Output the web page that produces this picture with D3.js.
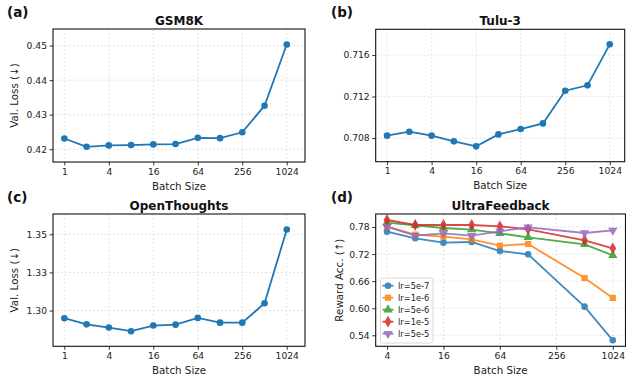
<!DOCTYPE html>
<html>
<head>
<meta charset="utf-8">
<script src="https://cdn.jsdelivr.net/npm/d3@7"></script>
<style>
  body { margin: 0; background: #fff; }
  svg { display: block; font-family: "DejaVu Sans", sans-serif; }
</style>
</head>
<body>
<svg id="chart" width="626" height="377"></svg>
<script>
// ---------- data ----------
const batchSizes = [1, 2, 4, 8, 16, 32, 64, 128, 256, 512, 1024];
const gsm8kLoss = [0.4231, 0.4207, 0.4211, 0.4212, 0.4214, 0.4215, 0.4233, 0.4232, 0.4249, 0.4326, 0.4503];
const tuluLoss = [0.70823, 0.70861, 0.70823, 0.70768, 0.70720, 0.70835, 0.70887, 0.70941, 0.71256, 0.71308, 0.71703];
const openThoughtsLoss = [1.2950, 1.2910, 1.2889, 1.2865, 1.2902, 1.2908, 1.2952, 1.2921, 1.2921, 1.3048, 1.3531];

const ufBatchSizes = [4, 8, 16, 32, 64, 128, 512, 1024];
const ufLabels = ["lr=5e-7", "lr=1e-6", "lr=5e-6", "lr=1e-5", "lr=5e-5"];
const ufLr5e7 = [0.7697, 0.7549, 0.7453, 0.7468, 0.7268, 0.7194, 0.6035, 0.5289];
const ufLr1e6 = [0.7807, 0.7630, 0.7586, 0.7527, 0.7386, 0.7423, 0.6670, 0.6227];
const ufLr5e6 = [0.7896, 0.7837, 0.7778, 0.7741, 0.7660, 0.7571, 0.7416, 0.7172];
const ufLr1e5 = [0.7955, 0.7844, 0.7844, 0.7844, 0.7815, 0.7748, 0.7505, 0.7328];
const ufLr5e5 = [0.7807, 0.7608, 0.7660, 0.7608, 0.7704, 0.7793, 0.7667, 0.7726];

const xTicksFull = [1, 4, 16, 64, 256, 1024];
const xTicksUF = [4, 16, 64, 256, 1024];
const yTicksGSM = [0.42, 0.43, 0.44, 0.45];
const yTicksTulu = [0.708, 0.712, 0.716];
const yTicksOT = [1.30, 1.325, 1.35];
const yTickLabelsOT = ["1.30", "1.33", "1.35"];
const yTicksUF = [0.54, 0.60, 0.66, 0.72, 0.78];

// ---------- style ----------
const colors = ["#1f77b4", "#ff7f0e", "#2ca02c", "#d62728", "#9467bd"];
const svg = d3.select("#chart");

function panel(o) {
  const g = svg.append("g");
  const x = d3.scaleLog().base(2).domain(o.xDomain).range([o.left, o.right]);
  const y = d3.scaleLinear().domain(o.yDomain).range([o.bottom, o.top]);

  // grid
  g.append("g").selectAll("line").data(o.xTicks).join("line")
    .attr("x1", d => x(d)).attr("x2", d => x(d))
    .attr("y1", o.top).attr("y2", o.bottom)
    .attr("stroke", "#dcdcdc").attr("stroke-width", 0.8).attr("stroke-dasharray", "2,2");
  g.append("g").selectAll("line").data(o.yTicks).join("line")
    .attr("x1", o.left).attr("x2", o.right)
    .attr("y1", d => y(d)).attr("y2", d => y(d))
    .attr("stroke", "#dcdcdc").attr("stroke-width", 0.8).attr("stroke-dasharray", "2,2");

  // axes
  const xAxis = d3.axisBottom(x).tickValues(o.xTicks).tickFormat(d3.format("d"))
    .tickSizeInner(3.5).tickSizeOuter(0).tickPadding(2.5);
  const yAxis = d3.axisLeft(y).tickValues(o.yTicks)
    .tickFormat((d, i) => o.yTickLabels ? o.yTickLabels[i] : o.yFmt(d))
    .tickSizeInner(3.5).tickSizeOuter(0).tickPadding(2.5);
  const gx = g.append("g").attr("transform", `translate(0,${o.bottom})`).call(xAxis);
  const gy = g.append("g").attr("transform", `translate(${o.left},0)`).call(yAxis);
  [gx, gy].forEach(a => {
    a.select(".domain").remove();
    a.selectAll(".tick line").attr("stroke", "#222").attr("stroke-width", 0.9);
    a.selectAll(".tick text").attr("fill", "#222").attr("font-size", 9.2)
      .attr("font-family", "DejaVu Sans");
  });

  // frame
  g.append("rect").attr("x", o.left).attr("y", o.top)
    .attr("width", o.right - o.left).attr("height", o.bottom - o.top)
    .attr("fill", "none").attr("stroke", "#111").attr("stroke-width", 1.1);

  // title
  g.append("text").attr("x", (o.left + o.right) / 2).attr("y", o.top - 4.5)
    .attr("text-anchor", "middle").attr("font-weight", "bold").attr("font-size", 12)
    .attr("fill", "#111").text(o.title);
  // panel label
  g.append("text").attr("x", o.labelX).attr("y", o.top - 12.5)
    .attr("font-weight", "bold").attr("font-size", 13.5).attr("fill", "#111").text(o.label);
  // axis labels
  g.append("text").attr("x", (o.left + o.right) / 2).attr("y", o.bottom + 27.5)
    .attr("text-anchor", "middle").attr("font-size", 10.3).attr("fill", "#222").text("Batch Size");
  if (o.yLabel) {
    g.append("text").attr("transform", `translate(${o.yLabelX},${(o.top + o.bottom) / 2}) rotate(-90)`)
      .attr("text-anchor", "middle").attr("dy", "0.35em").attr("font-size", 10.3).attr("fill", "#222").text(o.yLabel);
  }
  return {g, x, y};
}

function simpleSeries(p, xs, ys) {
  const line = d3.line().x((d, i) => p.x(xs[i])).y(d => p.y(d));
  p.g.append("path").datum(ys).attr("d", line).attr("fill", "none")
    .attr("stroke", colors[0]).attr("stroke-width", 1.8);
  p.g.append("g").selectAll("circle").data(ys).join("circle")
    .attr("cx", (d, i) => p.x(xs[i])).attr("cy", d => p.y(d)).attr("r", 3.3)
    .attr("fill", colors[0]);
}

// (a) GSM8K
const pa = panel({left: 53, right: 305, top: 29, bottom: 162,
  xDomain: [Math.pow(2, -0.51), Math.pow(2, 10.82)], yDomain: [0.4163, 0.4548],
  xTicks: xTicksFull, yTicks: yTicksGSM, yFmt: d3.format(".2f"),
  title: "GSM8K", label: "(a)", labelX: 7, yLabel: "Val. Loss (\u2193)", yLabelX: 14});
simpleSeries(pa, batchSizes, gsm8kLoss);

// (b) Tulu-3
const pb = panel({left: 375.7, right: 624.7, top: 29.3, bottom: 161.7,
  xDomain: [Math.pow(2, -0.51), Math.pow(2, 10.67)], yDomain: [0.70572, 0.71848],
  xTicks: xTicksFull, yTicks: yTicksTulu, yFmt: d3.format(".3f"),
  title: "Tulu-3", label: "(b)", labelX: 331});
simpleSeries(pb, batchSizes, tuluLoss);

// (c) OpenThoughts
const pc = panel({left: 53, right: 305, top: 214, bottom: 346.3,
  xDomain: [Math.pow(2, -0.51), Math.pow(2, 10.82)], yDomain: [1.2766, 1.3633],
  xTicks: xTicksFull, yTicks: yTicksOT, yTickLabels: yTickLabelsOT,
  title: "OpenThoughts", label: "(c)", labelX: 7, yLabel: "Val. Loss (\u2193)", yLabelX: 14});
simpleSeries(pc, batchSizes, openThoughtsLoss);

// (d) UltraFeedback
const pd = panel({left: 375.7, right: 625.5, top: 214, bottom: 346.3,
  xDomain: [Math.pow(2, 1.6), Math.pow(2, 10.45)], yDomain: [0.5156, 0.8088],
  xTicks: xTicksUF, yTicks: yTicksUF, yFmt: d3.format(".2f"),
  title: "UltraFeedback", label: "(d)", labelX: 331, yLabel: "Reward Acc. (\u2191)", yLabelX: 339});

const ufSeries = [ufLr5e7, ufLr1e6, ufLr5e6, ufLr1e5, ufLr5e5];
const symbols = [
  d3.symbol().type(d3.symbolCircle).size(34),
  d3.symbol().type(d3.symbolSquare).size(38),
  d3.symbol().type(d3.symbolTriangle).size(38),
  d3.symbol().type(d3.symbolDiamond).size(40),
  d3.symbol().type(d3.symbolTriangle).size(38)
];
const rotations = [0, 0, 0, 0, 180];
ufSeries.forEach((ys, k) => {
  const line = d3.line().x((d, i) => pd.x(ufBatchSizes[i])).y(d => pd.y(d));
  const sg = pd.g.append("g").attr("opacity", 0.85);
  sg.append("path").datum(ys).attr("d", line).attr("fill", "none")
    .attr("stroke", colors[k]).attr("stroke-width", 1.8);
  sg.selectAll("path.m").data(ys).join("path").attr("class", "m")
    .attr("d", symbols[k])
    .attr("transform", (d, i) => `translate(${pd.x(ufBatchSizes[i])},${pd.y(d)}) rotate(${rotations[k]})`)
    .attr("fill", colors[k]);
});

// legend
const lg = pd.g.append("g").attr("transform", "translate(380.5,278)");
lg.append("rect").attr("width", 52.5).attr("height", 65).attr("rx", 2)
  .attr("fill", "#fff").attr("fill-opacity", 0.85).attr("stroke", "#d0d0d0").attr("stroke-width", 0.8);
ufLabels.forEach((lab, k) => {
  const yy = 7.7 + k * 12;
  const it = lg.append("g").attr("opacity", 0.85);
  it.append("line").attr("x1", 2).attr("x2", 13).attr("y1", yy).attr("y2", yy)
    .attr("stroke", colors[k]).attr("stroke-width", 1.8);
  it.append("path").attr("d", symbols[k])
    .attr("transform", `translate(7.5,${yy}) rotate(${rotations[k]})`).attr("fill", colors[k]);
  lg.append("text").attr("x", 17.5).attr("y", yy).attr("dy", "0.35em")
    .attr("font-size", 8.3).attr("fill", "#222").text(lab);
});
</script>
</body>
</html>
